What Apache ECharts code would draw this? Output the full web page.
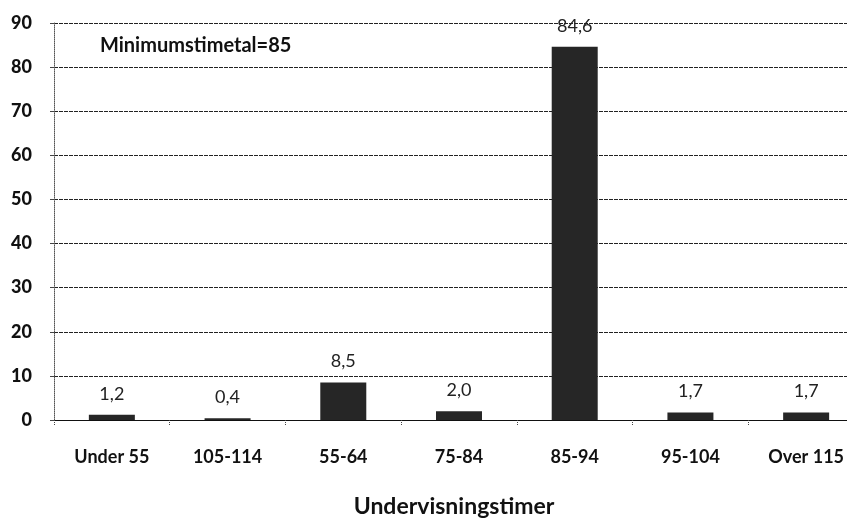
<!DOCTYPE html>
<html>
<head>
<meta charset="utf-8">
<script src="https://cdn.jsdelivr.net/npm/echarts@6/dist/echarts.min.js"></script>
<style>
  html, body { margin: 0; padding: 0; background: #fff }
  #chart { width: 847px; height: 525px }
</style>
</head>
<body>
<div id="chart"></div>
<script>
// Fordeling af undervisningstimer (%)
const categories = ['Under 55', '105-114', '55-64', '75-84', '85-94', '95-104', 'Over 115']
const values = [1.2, 0.4, 8.5, 2.0, 84.6, 1.7, 1.7]
const yTicks = [0, 10, 20, 30, 40, 50, 60, 70, 80, 90]
const note = 'Minimumstimetal=85'
const xTitle = 'Undervisningstimer'

const font = 'Lato, "Open Sans", sans-serif'
const chart = echarts.init(document.getElementById('chart'))

chart.setOption({
  animation: false,
  grid: { left: 54, top: 23, width: 810, bottom: 105, containLabel: false, outerBoundsMode: 'none' },
  graphic: [{
    type: 'text',
    left: 100,
    top: 36,
    style: { text: note, font: `bold 20px ${font}`, fill: '#111' }
  }],
  xAxis: {
    type: 'category',
    data: categories,
    name: xTitle,
    nameLocation: 'middle',
    nameGap: 75,
    nameTextStyle: { fontFamily: font, fontWeight: 'bold', fontSize: 23, color: '#111', padding: [0, 10, 0, 0] },
    axisLine: { lineStyle: { color: '#111', width: 1 } },
    axisTick: { show: true, length: 5, lineStyle: { color: '#444', type: 'dotted' } },
    axisLabel: { margin: 28, fontFamily: font, fontWeight: 'bold', fontSize: 18, color: '#111' }
  },
  yAxis: {
    type: 'value',
    min: yTicks[0],
    max: yTicks[yTicks.length - 1],
    interval: 10,
    axisLine: { show: true, lineStyle: { color: '#555', type: 'dotted' } },
    axisTick: { show: true, length: 4, lineStyle: { color: '#444' } },
    axisLabel: { margin: 22, fontFamily: font, fontWeight: 900, fontSize: 18, color: '#111' },
    splitLine: { lineStyle: { color: '#222', width: 1, type: [4, 1] } }
  },
  series: [{
    type: 'bar',
    data: values,
    barWidth: 46,
    itemStyle: { color: '#262626' },
    label: {
      show: true,
      position: 'top',
      distance: 12,
      fontFamily: font,
      fontSize: 18,
      color: '#222',
      formatter: p => p.value.toFixed(1).replace('.', ',')
    }
  }]
})
</script>
</body>
</html>
